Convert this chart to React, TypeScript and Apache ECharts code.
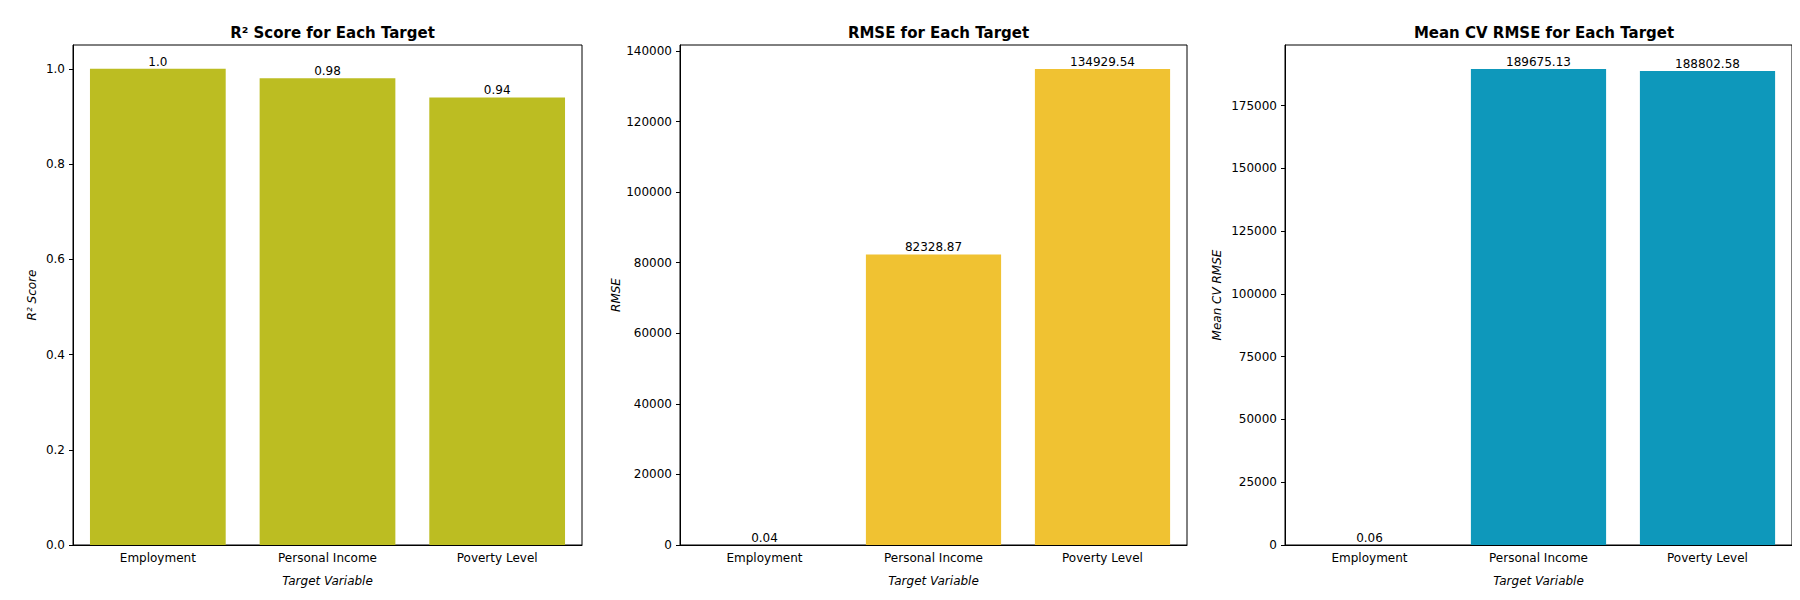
import { useEffect, useRef } from "react";
import * as echarts from "echarts";

const categories = ["Employment", "Personal Income", "Poverty Level"];
const r2Values = [1.0, 0.98, 0.94];
const r2Labels = ["1.0", "0.98", "0.94"];
const rmseValues = [0.04, 82328.87, 134929.54];
const rmseLabels = ["0.04", "82328.87", "134929.54"];
const cvValues = [0.06, 189675.13, 188802.58];
const cvLabels = ["0.06", "189675.13", "188802.58"];

const panels = [
  { title: "R² Score for Each Target", yName: "R² Score", values: r2Values, labels: r2Labels, color: "#bcbd22", max: 1.05, interval: 0.2, left: 65, right: 574, fmt: (v: number) => v.toFixed(1) },
  { title: "RMSE for Each Target", yName: "RMSE", values: rmseValues, labels: rmseLabels, color: "#f0c232", max: 141700, interval: 20000, left: 672, right: 1179, fmt: (v: number) => String(v) },
  { title: "Mean CV RMSE for Each Target", yName: "Mean CV RMSE", values: cvValues, labels: cvLabels, color: "#0e98bb", max: 199200, interval: 25000, left: 1277, right: 1785, fmt: (v: number) => String(v) },
];

const font = "DejaVu Sans";

export default function App() {
  const ref = useRef<HTMLDivElement | null>(null);

  useEffect(() => {
    if (!ref.current) return;
    const chart = echarts.init(ref.current, undefined, { renderer: "svg" });
    const top = 37;
    const bottom = 542;

    const option: echarts.EChartsOption = {
      animation: false,
      backgroundColor: "#fff",
      textStyle: { fontFamily: font },
      title: panels.map((p) => ({
        text: p.title,
        left: (p.left + p.right) / 2,
        textAlign: "center",
        top: 12,
        textStyle: { fontFamily: font, fontSize: 15, fontWeight: "bold", color: "#000" },
      })),
      grid: panels.map((p) => ({
        left: p.left,
        width: p.right - p.left,
        top,
        height: bottom - top,
        show: true,
        borderColor: "#000",
        borderWidth: 1,
        backgroundColor: "transparent",
      })),
      xAxis: panels.map((p, i) => ({
        type: "category",
        gridIndex: i,
        data: categories,
        name: "Target Variable",
        nameLocation: "middle",
        nameGap: 30,
        nameTextStyle: { fontFamily: font, fontSize: 12, fontStyle: "italic", color: "#000" },
        axisLine: { lineStyle: { color: "#000" } },
        axisTick: { alignWithLabel: true, length: 4, lineStyle: { color: "#000" } },
        axisLabel: { fontFamily: font, fontSize: 12, color: "#000", margin: 7 },
      })),
      yAxis: panels.map((p, i) => ({
        type: "value",
        gridIndex: i,
        min: 0,
        max: p.max,
        interval: p.interval,
        name: p.yName,
        nameLocation: "middle",
        nameGap: p.max > 150000 ? 62 : p.max > 2 ? 55 : 35,
        nameTextStyle: { fontFamily: font, fontSize: 12, fontStyle: "italic", color: "#000" },
        splitLine: { show: false },
        axisLine: { show: true, lineStyle: { color: "#000" } },
        axisTick: { show: true, length: 4, lineStyle: { color: "#000" } },
        axisLabel: { fontFamily: font, fontSize: 12, color: "#000", showMaxLabel: false, formatter: (v: number) => p.fmt(v) },
      })),
      series: panels.map((p, i) => ({
        type: "bar",
        xAxisIndex: i,
        yAxisIndex: i,
        data: p.values,
        barWidth: "80%",
        itemStyle: { color: p.color },
        label: {
          show: true,
          position: "top",
          distance: 1,
          fontFamily: font,
          fontSize: 12,
          color: "#000",
          formatter: (d: any) => p.labels[d.dataIndex],
        },
      })),
    };
    chart.setOption(option);
    return () => chart.dispose();
  }, []);

  return <div ref={ref} style={{ width: 1784, height: 584 }} />;
}
